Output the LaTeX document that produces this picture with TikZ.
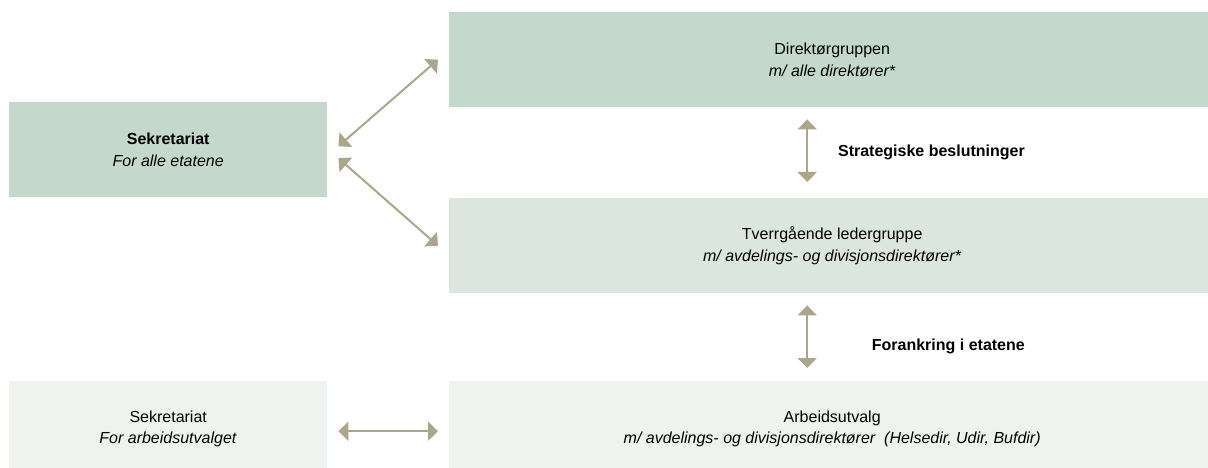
\documentclass[tikz,border=0pt]{standalone}
\usepackage{fontspec}
\setmainfont{Liberation Sans}
\usetikzlibrary{arrows.meta}

\begin{document}
\begin{tikzpicture}[x=1pt,y=-1pt]
  % Colors
  \definecolor{topcolor}{HTML}{C4D8CB}
  \definecolor{midcolor}{HTML}{DBE6DE}
  \definecolor{lowcolor}{HTML}{EEF3EF}
  \definecolor{arrowcolor}{HTML}{ABA68C}

  % Styles
  \tikzstyle{box}=[anchor=north west,inner sep=0pt,align=center,
    minimum height=95pt,font=\fontsize{16}{21.5}\selectfont]
  \tikzstyle{side box}=[box,minimum width=318pt]
  \tikzstyle{main box}=[box,minimum width=766pt]
  \tikzstyle{link}=[line width=2pt,draw=arrowcolor,
    {Triangle[width=19pt,length=10pt,fill=arrowcolor]}-{Triangle[width=19pt,length=10pt,fill=arrowcolor]}]
  \tikzstyle{link text}=[anchor=east,inner sep=0pt,font=\fontsize{16}{20}\selectfont\bfseries]

  % The graphic
  \useasboundingbox (0,0) rectangle (1208,468);
  \clip (0,0) rectangle (1208,468);

  \node[main box,fill=topcolor] (dir) at (449,12)
    {Direktørgruppen\\\textit{m/ alle direktører*}};
  \node[main box,fill=midcolor] (tv) at (449,198)
    {Tverrgående ledergruppe\\\textit{m/ avdelings- og divisjonsdirektører*}};
  \node[main box,fill=lowcolor] (au) at (449,381)
    {Arbeidsutvalg\\\textit{m/ avdelings- og divisjonsdirektører\ \ (Helsedir, Udir, Bufdir)}};

  \node[side box,fill=topcolor] (sek) at (9,102)
    {\bfseries Sekretariat\\\textit{For alle etatene}};
  \node[side box,fill=lowcolor] (sekau) at (9,381)
    {Sekretariat\\\textit{For arbeidsutvalget}};

  \node[link text] (strat) at (1025,152) {Strategiske beslutninger};
  \node[link text] (fork) at (1025,346) {Forankring i etatene};

  % Arrows
  \draw[link] ([xshift=11pt,yshift=3.5pt]sek.east) -- ([xshift=-11pt]dir.west);
  \draw[link] ([xshift=11pt,yshift=-8.5pt]sek.east) -- ([xshift=-11pt]tv.west);
  \draw[link] ([xshift=11pt,yshift=-2.5pt]sekau.east) -- ([xshift=-11pt,yshift=-2.5pt]au.west);

  \draw[link,shorten <=12pt,shorten >=16pt]
    ([xshift=-25pt]dir.south) -- ([xshift=-25pt]tv.north);
  \draw[link,shorten <=12pt,shorten >=13pt]
    ([xshift=-25pt]tv.south) -- ([xshift=-25pt]au.north);
\end{tikzpicture}
\end{document}
